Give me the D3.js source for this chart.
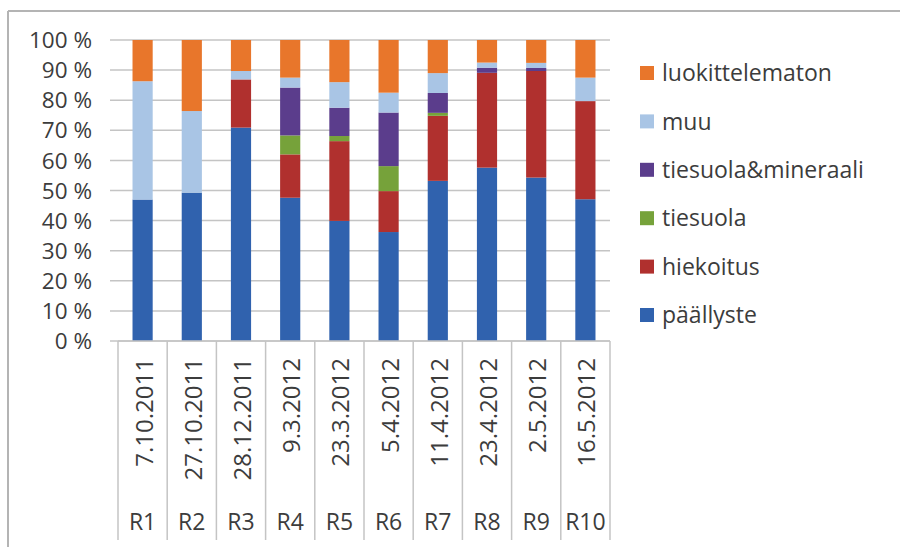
<!DOCTYPE html>
<html>
<head>
<meta charset="utf-8">
<script src="https://cdn.jsdelivr.net/npm/d3@7"></script>
<style>
  body { margin: 0; background: #fff; }
  svg { display: block; font-family: "Open Sans", "Noto Sans", sans-serif; }
</style>
</head>
<body>
<svg id="chart" width="900" height="547"></svg>
<script>
// näytteet
var kierrokset = ["R1", "R2", "R3", "R4", "R5", "R6", "R7", "R8", "R9", "R10"];
var paivat = ["7.10.2011", "27.10.2011", "28.12.2011", "9.3.2012", "23.3.2012",
              "5.4.2012", "11.4.2012", "23.4.2012", "2.5.2012", "16.5.2012"];

// osuudet (%) alhaalta ylös
var paallyste       = [47, 49.3, 70.9, 47.6, 39.9, 36.2, 53.2, 57.6, 54.3, 47.1];
var hiekoitus       = [0, 0, 16, 14.4, 26.5, 13.6, 21.6, 31.5, 35.4, 32.6];
var tiesuola        = [0, 0, 0, 6.3, 1.7, 8.3, 1, 0, 0, 0];
var tiesuolaMin     = [0, 0, 0, 15.9, 9.4, 17.8, 6.6, 1.7, 1, 0];
var muu             = [39.3, 27.1, 2.8, 3.3, 8.5, 6.6, 6.6, 1.7, 1.7, 7.8];
var luokittelematon = [13.7, 23.6, 10.3, 12.5, 14, 17.5, 11, 7.5, 7.6, 12.5];

var sarjat = ["paallyste", "hiekoitus", "tiesuola", "tiesuolaMin", "muu", "luokittelematon"];
var nimet = ["päällyste", "hiekoitus", "tiesuola", "tiesuola&mineraali", "muu", "luokittelematon"];
var varit = ["#3062ae", "#b0302e", "#76a23a", "#5b3d8c", "#a9c5e5", "#e8762b"];
var yTicks = [0, 0.1, 0.2, 0.3, 0.4, 0.5, 0.6, 0.7, 0.8, 0.9, 1];

var arvot = [paallyste, hiekoitus, tiesuola, tiesuolaMin, muu, luokittelematon];
var rivit = kierrokset.map(function (k, i) {
    var r = { kierros: k };
    sarjat.forEach(function (s, j) { r[s] = arvot[j][i]; });
    return r;
});

var svg = d3.select("#chart");
var x0 = 118, x1 = 610, yTop = 40, yBot = 341;
var tekstiVari = "#3c3c3c";

var x = d3.scaleBand().domain(kierrokset).range([x0, x1]).paddingInner(0.59).paddingOuter(0.295);
var xCat = d3.scaleBand().domain(kierrokset).range([x0, x1]);
var y = d3.scaleLinear().domain([0, 1]).range([yBot, yTop]);

var pinot = d3.stack().keys(sarjat).offset(d3.stackOffsetExpand)(rivit);
var vari = d3.scaleOrdinal().domain(sarjat).range(varit);

/* reunaviivat */
svg.append("line").attr("x1", 8).attr("x2", 900).attr("y1", 11).attr("y2", 11)
    .attr("stroke", "#b4b4b4").attr("stroke-width", 2);
svg.append("line").attr("x1", 8).attr("x2", 8).attr("y1", 11).attr("y2", 547)
    .attr("stroke", "#b4b4b4").attr("stroke-width", 2);

/* vaakaviivat */
svg.append("g").selectAll("line")
    .data(yTicks)
    .enter()
    .append("line")
    .attr("x1", x0 - 8)
    .attr("x2", x1)
    .attr("y1", function (d) { return y(d); })
    .attr("y2", function (d) { return y(d); })
    .attr("stroke", "#c4c4c4")
    .attr("stroke-width", 1.5);

/* y-akselin tekstit */
svg.append("g").selectAll("text")
    .data(yTicks)
    .enter()
    .append("text")
    .attr("x", 92)
    .attr("y", function (d) { return y(d); })
    .attr("dy", "0.36em")
    .attr("text-anchor", "end")
    .attr("font-size", 22.5)
    .attr("fill", tekstiVari)
    .text(function (d) { return Math.round(d * 100) + " %"; });

/* pylväät */
svg.append("g").selectAll("g")
    .data(pinot)
    .enter()
    .append("g")
    .attr("fill", function (d) { return vari(d.key); })
    .selectAll("rect")
    .data(function (d) { return d; })
    .enter()
    .append("rect")
    .attr("x", function (d) { return x(d.data.kierros); })
    .attr("width", x.bandwidth())
    .attr("y", function (d) { return y(d[1]); })
    .attr("height", function (d) { return y(d[0]) - y(d[1]); });

/* luokka-akselin jakoviivat */
var rajat = kierrokset.map(function (k) { return xCat(k); }).concat([x1]);
svg.append("g").selectAll("line")
    .data(rajat)
    .enter()
    .append("line")
    .attr("x1", function (d) { return d; })
    .attr("x2", function (d) { return d; })
    .attr("y1", yBot)
    .attr("y2", 540)
    .attr("stroke", "#c4c4c4")
    .attr("stroke-width", 1.5);
svg.append("line").attr("x1", x0).attr("x2", x1).attr("y1", yBot).attr("y2", yBot)
    .attr("stroke", "#c4c4c4").attr("stroke-width", 1.5);

/* päivämäärät */
svg.append("g").selectAll("text")
    .data(paivat)
    .enter()
    .append("text")
    .attr("transform", function (d, i) {
        var cx = xCat(kierrokset[i]) + xCat.bandwidth() / 2 + 10;
        return "translate(" + cx + ",358) rotate(-90)";
    })
    .attr("text-anchor", "end")
    .attr("font-size", 24)
    .attr("fill", tekstiVari)
    .text(function (d) { return d; });

/* kierrokset */
svg.append("g").selectAll("text")
    .data(kierrokset)
    .enter()
    .append("text")
    .attr("x", function (d) { return xCat(d) + xCat.bandwidth() / 2; })
    .attr("y", 522)
    .attr("dy", "0.36em")
    .attr("text-anchor", "middle")
    .attr("font-size", 23)
    .attr("fill", tekstiVari)
    .text(function (d) { return d; });

/* selite, ylhäältä alas */
var selite = svg.append("g").selectAll("g")
    .data(sarjat.slice().reverse())
    .enter()
    .append("g")
    .attr("transform", function (d, i) { return "translate(640," + (73 + i * 48.4) + ")"; });
selite.append("rect")
    .attr("x", 0).attr("y", -7).attr("width", 14).attr("height", 14)
    .attr("fill", function (d) { return vari(d); });
selite.append("text")
    .attr("x", 22)
    .attr("dy", "0.36em")
    .attr("font-size", 23)
    .attr("fill", tekstiVari)
    .text(function (d) { return nimet[sarjat.indexOf(d)]; });
</script>
</body>
</html>
